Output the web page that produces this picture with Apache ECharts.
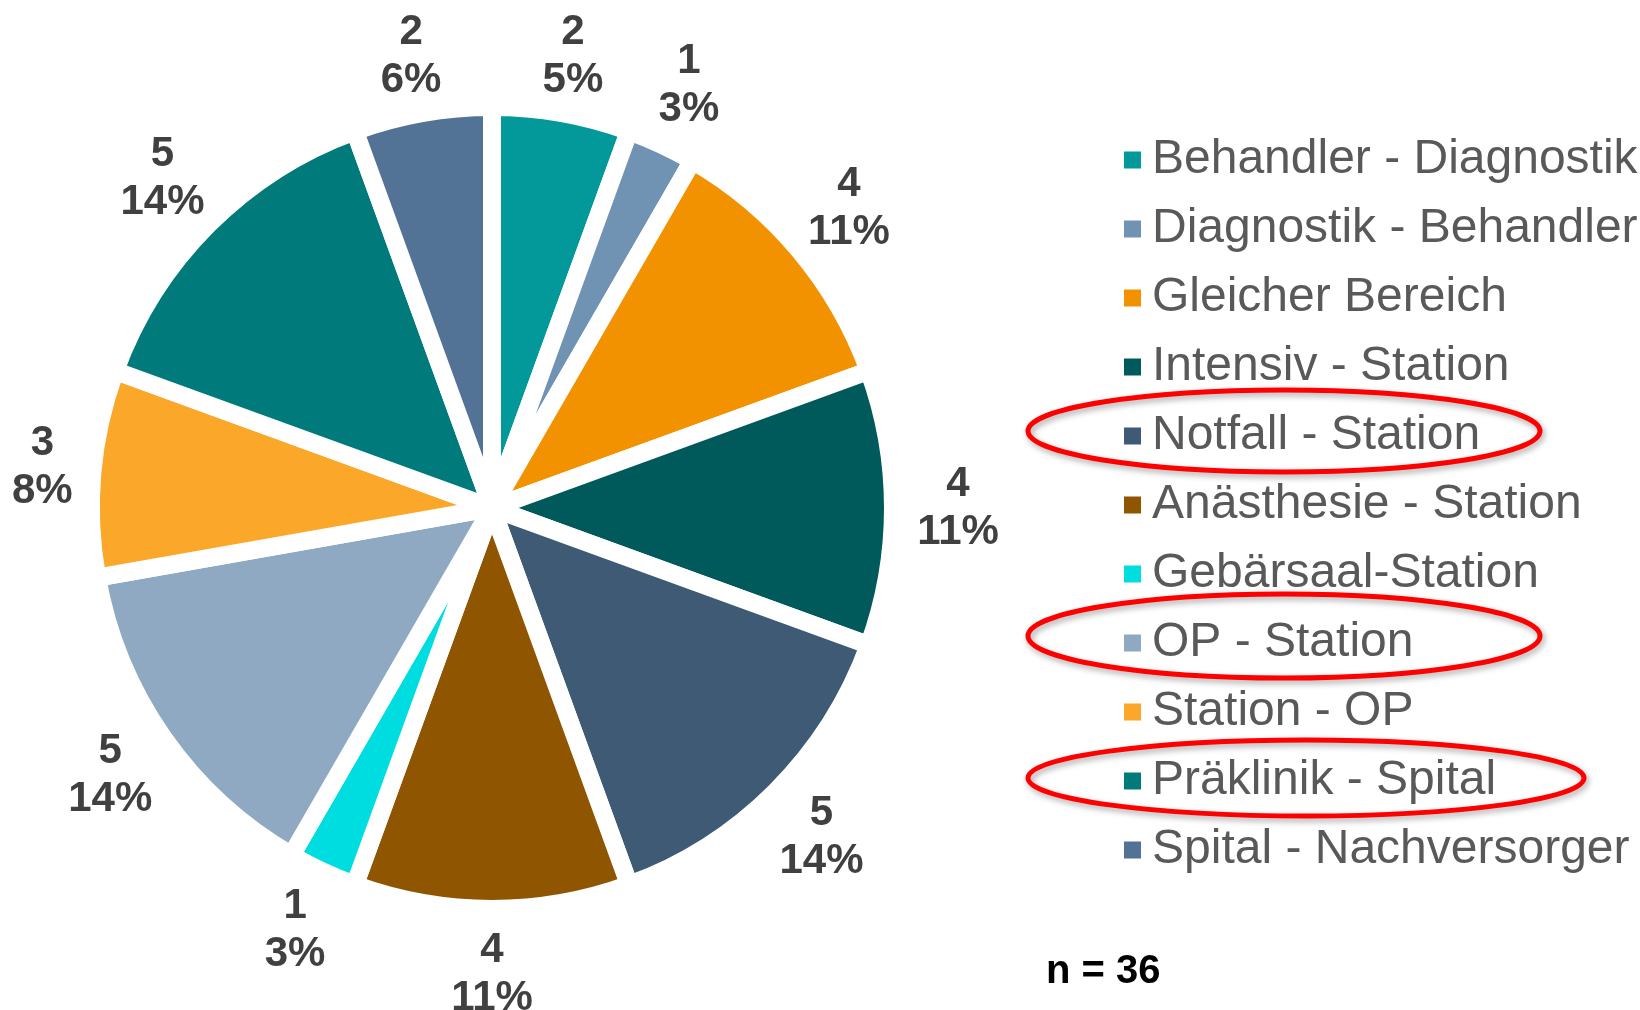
<!DOCTYPE html>
<html><head><meta charset="utf-8">
<script src="https://cdn.jsdelivr.net/npm/echarts@6/dist/echarts.min.js"></script>
<style>html,body{margin:0;padding:0;background:#fff}#c{width:1640px;height:1010px}</style>
</head><body><div id="c"></div>
<script>
const categories = ['Behandler - Diagnostik','Diagnostik - Behandler','Gleicher Bereich','Intensiv - Station','Notfall - Station','Anästhesie - Station','Gebärsaal-Station','OP - Station','Station - OP','Präklinik - Spital','Spital - Nachversorger'];
const counts = [2,1,4,4,5,4,1,5,3,5,2];
const percentLabels = ['5%','3%','11%','11%','14%','11%','3%','14%','8%','14%','6%'];
const colors = ['#03999A','#7092B3','#F39200','#005A5B','#3E5A75','#8F5500','#00DDE0','#8EA9C1','#FBA72A','#007A7A','#527395'];

const center = [492, 508];
const mainData = categories.map((n,i)=>({name:n,value:counts[i],itemStyle:{color:colors[i]}}));
const labelData = categories.map((n,i)=>({name:n,value:counts[i],pct:percentLabels[i]}));

const chart = echarts.init(document.getElementById('c'));
chart.setOption({
  animation:false,
  legend:{
    orient:'vertical', left:1117, top:131,
    itemWidth:19, itemHeight:19, itemGap:21, icon:'rect',
    data:categories,
    textStyle:{fontFamily:'Liberation Sans, Arial',fontSize:48,color:'#595959',lineHeight:48,padding:[0,0,0,5]}
  },
  graphic:[
    ...[[1284,431,256,41],[1284,636,256,42],[1306,778,278,38]].map(e=>({
      type:'ellipse', shape:{cx:e[0],cy:e[1],rx:e[2],ry:e[3]},
      style:{fill:'none',stroke:'#FF0000',lineWidth:5,shadowBlur:6,shadowColor:'rgba(0,0,0,0.35)',shadowOffsetX:2,shadowOffsetY:3},
      z:100
    })),
    {type:'text', left:1046, top:952, style:{text:'n = 36', font:'bold 40px "Liberation Sans", Arial', fill:'#000'}}
  ],
  series:[
    {
      type:'pie', center:center, radius:[0,401], startAngle:90, clockwise:true,
      itemStyle:{borderColor:'#fff',borderWidth:18},
      label:{show:false}, labelLine:{show:false},
      emphasis:{disabled:true},
      data:mainData
    },
    {
      type:'pie', center:center, radius:[428,498], startAngle:90, clockwise:true, silent:true,
      itemStyle:{color:'rgba(0,0,0,0)',borderWidth:0},
      label:{show:true,position:'inside',fontFamily:'Liberation Sans, Arial',fontWeight:'bold',fontSize:42,color:'#404040',lineHeight:48,
        formatter:p=>p.value+'\n'+p.data.pct},
      labelLine:{show:false},
      labelLayout:p=>{
        const r=p.labelRect; const o={};
        if(r.x<12) o.dx=12-r.x;
        if(r.y<8) o.dy=8-r.y;
        return o;
      },
      emphasis:{disabled:true},
      data:labelData
    }
  ]
});
</script></body></html>
